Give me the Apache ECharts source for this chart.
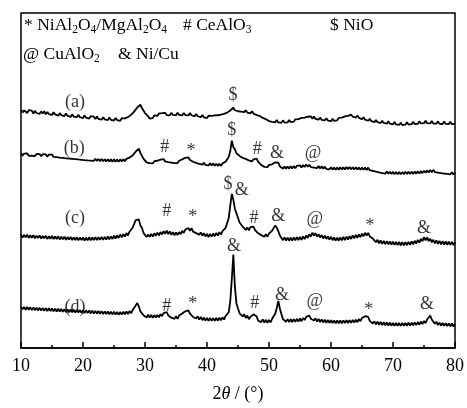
<!DOCTYPE html>
<html>
<head>
<meta charset="utf-8">
<script src="https://cdn.jsdelivr.net/npm/echarts@6/dist/echarts.min.js"></script>
<style>
html,body{margin:0;padding:0;background:#fff;}
#chart{width:467px;height:408px;}
</style>
</head>
<body>
<div id="chart"></div>
<script>
// XRD patterns (a)-(d), stacked; intensity in arbitrary units with vertical offsets.
// Sampled on a regular 2θ grid starting at 10° with a 0.25° step.
var angleStart = 10;
var angleStep = 0.25;

var traceA = [
242.5,239.8,241.9,240.1, 239.2,242.1,240.3,241.6, 238.7,241.4,239.2,240.9, 238.3,240.8,238.6,241.0,
237.9,240.2,238.1,239.7, 237.2,239.9,237.8,239.3, 236.5,239.1,237.0,238.4, 236.1,238.6,236.3,237.9,
235.2,237.8,235.6,237.1, 234.9,237.3,235.0,236.6, 234.1,236.7,234.4,235.9, 233.6,236.0,234.0,235.5,
233.0,235.6,233.2,234.8, 232.4,234.9,232.7,234.3, 232.0,234.6,232.3,233.9, 231.5,234.1,232.0,233.4,
231.3,233.9,232.0,233.8, 232.6,235.0,234.2,237.3, 237.4,240.6,241.5,244.8, 245.1,247.6,244.3,242.4,
239.2,237.5,236.0,233.6, 235.1,234.0,236.8,235.9, 236.2,238.7,236.9,239.0, 237.0,239.4,237.1,238.9,
236.8,239.3,237.2,239.1, 237.0,239.5,237.3,238.8, 236.9,239.2,237.1,239.0, 236.7,239.1,236.9,238.2,
235.8,238.3,235.9,237.3, 234.9,237.2,234.8,236.4, 234.0,236.4,234.5,236.3, 234.3,236.8,234.9,236.9,
235.1,237.6,236.0,238.4, 237.2,239.6,239.1,241.8, 242.5,244.6,242.0,243.3, 241.0,242.9,240.6,242.3,
240.0,242.1,239.7,241.2, 238.9,241.0,238.6,239.6, 237.1,238.9,236.2,236.8, 234.2,235.6,232.9,233.5,
231.0,232.9,230.2,231.6, 229.8,232.0,229.6,231.4, 229.3,231.7,229.5,231.3, 229.6,232.1,230.0,231.8,
230.4,232.8,230.9,232.9, 231.9,234.2,232.4,234.6, 232.9,235.4,233.4,235.8, 233.3,235.6,233.2,234.9,
232.5,234.6,232.1,233.7, 231.6,233.9,231.5,233.2, 230.9,233.3,231.1,233.0, 231.8,234.2,232.3,234.5,
233.4,235.7,234.0,236.3, 235.0,237.5,235.4,237.4, 234.6,236.7,234.3,235.6, 232.8,234.9,232.4,233.5,
231.3,233.4,231.0,232.1, 229.9,232.2,229.8,231.2, 229.0,231.4,229.1,230.5, 228.4,230.7,228.3,229.8,
227.7,230.1,227.6,229.2, 227.1,229.4,227.0,228.6, 227.3,229.8,227.5,229.4, 227.8,230.2,228.0,229.9,
228.2,230.7,228.6,230.4, 228.9,231.2,228.8,230.6, 228.6,231.0,228.4,230.1, 228.3,230.7,228.2,229.9,
228.0,230.5,228.1,229.6, 227.9,230.3,227.8,229.5, 228.1
];

var traceB = [
198.2,195.8,197.9,196.0, 198.0,195.6,197.6,195.9, 197.8,195.4,197.5,195.7, 197.4,195.1,197.2,195.2,
197.0,194.8,196.9,194.9, 196.9,194.5,196.3,194.2, 196.1,193.8,195.7,193.5, 195.4,193.1,195.0,192.9,
194.8,192.6,194.4,192.3, 194.1,191.9,193.8,191.6, 193.4,191.2,193.1,190.9, 192.9,190.7,192.6,190.5,
192.6,190.3,192.4,190.2, 192.5,190.1,192.2,189.9, 192.2,189.8,192.0,189.7, 192.1,189.6,191.9,189.6,
192.0,189.8,192.2,190.1, 192.6,191.0,193.8,193.6, 196.0,196.4,199.8,201.3, 203.0,198.6,196.7,192.8,
191.6,189.0,190.2,188.1, 190.0,187.9,190.1,188.3, 190.6,189.0,191.7,190.2, 192.3,189.9,191.5,189.1,
191.0,188.6,190.4,188.1, 190.0,188.2,190.6,189.4, 192.0,190.9,193.6,192.2, 194.0,191.4,192.5,189.6,
191.0,188.4,189.9,187.3, 189.1,186.6,188.7,186.3, 188.3,185.9,188.1,185.8, 187.9,185.5,187.6,185.3,
187.5,185.4,187.9,186.6, 189.6,189.8,194.5,200.2, 211.0,204.6,202.1,198.2, 198.4,195.5,196.7,193.6,
195.2,192.5,193.8,190.9, 192.3,190.0,192.1,191.2, 192.8,189.6,189.4,186.2, 187.1,184.4,186.3,184.1,
186.4,184.8,187.0,186.2, 189.0,189.4,188.7,185.0, 184.9,182.5,184.6,182.4, 184.7,182.6,184.9,182.8,
185.2,183.0,185.4,183.5, 185.9,183.7,186.3,184.2, 186.7,184.5,186.6,184.1, 186.0,183.6,185.6,183.1,
185.2,182.8,184.9,182.5, 184.6,182.2,184.2,181.9, 184.0,181.6,183.7,181.4, 183.8,181.5,183.9,181.6,
184.0,181.8,184.2,182.0, 184.3,181.9,184.0,181.7, 183.9,181.6,183.8,181.5, 183.7,181.4,183.6,181.3,
183.6,181.0,182.8,180.3, 182.1,179.6,181.2,178.8, 180.6,178.1,179.9,177.4, 179.7,177.3,179.4,177.0,
179.3,176.9,179.1,176.8, 179.2,176.8,179.0,176.9, 179.3,177.0,179.4,177.1, 179.5,177.2,179.6,177.4,
179.8,177.6,180.1,178.0, 180.5,178.3,180.8,178.6, 181.1,178.9,181.3,179.1, 181.0,178.6,180.5,178.0,
180.0,177.6,179.6,177.2, 179.2,176.8,178.9,176.6, 178.6
];

var traceC = [
115.6,112.4,115.1,112.8, 115.3,112.0,114.7,112.3, 114.9,111.7,114.4,111.9, 114.6,111.3,114.0,111.6,
114.2,111.0,113.8,111.2, 114.0,110.8,113.5,110.9, 113.7,110.5,113.2,110.6, 113.4,110.2,112.9,110.3,
113.1,109.9,112.6,110.0, 112.8,109.6,112.4,109.8, 112.6,109.4,112.3,109.6, 112.7,109.5,112.5,109.8,
112.9,109.8,112.8,110.1, 113.2,110.1,113.1,110.4, 113.6,110.6,113.6,111.0, 114.3,111.3,114.6,112.0,
115.5,112.6,115.9,113.4, 117.0,114.6,118.4,118.0, 122.4,124.1,130.2,131.6, 131.0,124.8,122.5,117.2,
117.4,112.9,115.6,113.1, 116.2,113.4,116.8,114.2, 117.4,114.6,118.0,115.6, 119.0,116.3,119.4,116.0,
118.6,115.2,117.9,114.8, 117.6,114.9,118.0,115.9, 119.3,117.1,120.6,118.6, 122.2,119.4,122.0,118.4,
120.2,116.9,118.8,115.4, 117.6,114.3,116.9,113.6, 116.0,113.0,116.0,113.4, 116.6,113.8,117.1,114.4,
117.9,115.5,119.0,117.9, 122.2,123.0,132.0,145.0, 157.0,151.0,141.8,137.0, 132.6,127.8,128.1,123.6,
124.2,120.1,122.6,119.8, 123.0,121.2,123.6,119.9, 121.0,116.8,118.6,114.9, 116.9,113.2,115.7,113.3,
116.4,115.5,119.4,120.6, 124.8,122.4,119.0,114.5, 114.2,109.8,112.6,109.4, 112.4,109.2,112.3,109.3,
112.5,109.5,112.8,109.8, 113.1,110.1,113.5,110.8, 114.6,112.0,115.9,113.5, 117.4,114.3,117.0,113.4,
115.9,112.4,114.8,111.5, 114.4,111.0,113.7,110.4, 113.2,109.7,112.5,109.3, 112.3,109.2,112.5,109.5,
113.0,109.9,113.3,110.4, 113.9,111.0,114.6,111.6, 115.1,112.2,115.7,112.9, 116.4,113.6,117.3,114.4,
117.2,113.6,115.5,111.4, 112.3,107.6,110.1,106.6, 109.6,106.0,109.1,105.7, 108.8,105.4,108.5,105.2,
108.3,104.9,108.0,104.7, 107.9,104.6,107.7,104.5, 107.8,104.7,108.1,105.1, 108.5,105.5,109.1,106.4,
110.0,107.3,111.1,108.6, 112.9,109.7,112.6,108.8, 111.3,107.5,110.1,106.6, 109.5,106.1,109.0,105.6,
108.7,105.3,108.4,105.1, 108.2,104.9,108.0,104.8, 107.7
];

var traceD = [
42.1,39.3,41.8,39.0, 41.7,38.9,41.4,38.6, 41.3,38.5,41.1,38.2, 40.9,38.1,40.7,37.9,
40.6,37.7,40.4,37.6, 40.3,37.4,40.0,37.2, 39.9,37.1,39.7,36.8, 39.5,36.7,39.3,36.4,
39.2,36.3,39.0,36.1, 38.8,36.0,38.6,35.8, 38.5,35.6,38.3,35.5, 38.2,35.3,38.0,35.1,
37.8,35.0,37.7,34.8, 37.5,34.6,37.3,34.5, 37.2,34.3,37.0,34.2, 36.9,34.0,36.7,33.9,
36.6,34.0,36.9,34.3, 37.2,34.6,37.6,35.3, 38.4,38.0,43.2,45.8, 42.4,37.4,37.1,33.4,
34.9,31.1,33.8,30.9, 33.6,30.8,33.5,30.9, 33.7,31.2,34.5,32.4, 35.6,34.2,36.5,33.1,
34.2,30.9,32.9,29.6, 32.3,29.6,33.0,31.2, 35.1,34.0,37.4,36.4, 38.2,34.9,35.6,31.6,
33.5,30.0,32.3,28.9, 31.6,28.3,31.0,27.9, 30.6,27.7,30.5,27.6, 30.4,27.6,30.5,27.8,
30.8,28.1,31.2,28.9, 32.6,31.0,36.2,47.5, 70.0,95.0,62.0,45.4, 40.2,35.3,36.4,32.2,
34.3,30.6,33.0,29.4, 31.7,30.1,34.2,35.1, 32.4,27.8,29.6,26.4, 29.1,25.9,28.7,25.7,
28.6,26.2,29.7,30.4, 34.9,40.6,48.0,40.2, 34.6,29.4,30.1,26.7, 29.4,26.4,29.3,26.5,
29.4,26.6,29.6,26.9, 30.0,27.3,30.6,28.4, 31.8,30.0,33.0,29.8, 31.4,27.9,30.2,26.9,
29.5,26.3,29.1,26.0, 28.8,25.7,28.5,25.5, 28.3,25.3,28.1,25.2, 28.0,25.1,28.0,25.2,
28.1,25.3,28.3,25.5, 28.4,25.6,28.6,25.9, 28.9,26.3,29.5,27.3, 30.6,29.0,32.4,31.0,
31.6,27.6,28.4,24.9, 27.2,24.0,26.8,23.7, 26.5,23.4,26.2,23.1, 26.0,22.9,25.8,22.7,
25.6,22.6,25.5,22.5, 25.5,22.5,25.5,22.6, 25.6,22.7,25.7,22.8, 25.8,23.0,26.1,23.3,
26.4,23.7,26.9,24.3, 27.5,25.3,29.0,29.4, 33.0,29.0,28.4,24.6, 26.8,23.4,25.9,22.8,
25.6,22.6,25.3,22.3, 25.1,22.1,24.9,21.9, 24.6
];

// Sample labels: [text, 2θ, intensity]
var sampleTags = [
  ['(a)', 18.7, 250],
  ['(b)', 18.6, 203],
  ['(c)', 18.7, 132],
  ['(d)', 18.7, 41]
];

// Phase markers over the reflections: [symbol, 2θ, intensity]
var phaseTags = [
  ['$', 44.2, 257],
  ['#', 33.2, 204], ['*', 37.4, 200], ['$', 44.0, 222], ['#', 48.1, 202], ['&', 51.3, 198], ['@', 57.1, 198],
  ['#', 33.5, 139], ['*', 37.7, 133], ['$', 43.4, 167], ['&', 45.6, 161], ['#', 47.6, 132], ['&', 51.5, 134], ['@', 57.4, 131], ['*', 66.3, 124], ['&', 75.0, 122],
  ['#', 33.5, 42], ['*', 37.7, 45], ['&', 44.35, 104], ['#', 47.7, 46], ['&', 52.1, 54], ['@', 57.4, 48], ['*', 66.1, 38], ['&', 75.5, 45]
];

var xTicks = [10, 20, 30, 40, 50, 60, 70, 80];

function toPairs(values) {
  return values.map(function (v, i) { return [angleStart + i * angleStep, v]; });
}

var SERIF = "'Liberation Serif', 'Times New Roman', serif";

var chart = echarts.init(document.getElementById('chart'), null, { renderer: 'canvas' });

function traceSeries(name, values) {
  return {
    name: name,
    type: 'line',
    data: toPairs(values),
    showSymbol: false,
    symbol: 'none',
    lineStyle: { color: '#000', width: 1.8 },
    animation: false,
    z: 3
  };
}

function tagSeries(tags, fontSize) {
  return {
    type: 'scatter',
    symbolSize: 0,
    data: tags.map(function (t) { return { value: [t[1], t[2]], tag: t[0] }; }),
    label: {
      show: true,
      position: 'inside',
      formatter: function (p) { return p.data.tag; },
      fontFamily: SERIF,
      fontSize: fontSize,
      color: '#000'
    },
    silent: true,
    animation: false,
    z: 4
  };
}

var sub = { fontFamily: SERIF, fontSize: 11.5, lineHeight: 10, verticalAlign: 'bottom', color: '#000' };
var main = { fontFamily: SERIF, fontSize: 17.5, lineHeight: 22, color: '#000' };

chart.setOption({
  backgroundColor: '#fff',
  animation: false,
  grid: { left: 21, right: 11, top: 13, bottom: 54, show: true, borderColor: '#000', borderWidth: 1.5, backgroundColor: 'transparent' },
  xAxis: {
    type: 'value',
    min: xTicks[0],
    max: xTicks[xTicks.length - 1],
    interval: 10,
    axisLine: { show: true, lineStyle: { color: '#000', width: 1.5 } },
    axisTick: { show: true, inside: true, length: 6, lineStyle: { color: '#000', width: 1.5 } },
    minorTick: { show: true, splitNumber: 2, length: 3, lineStyle: { color: '#000', width: 1.5 } },
    splitLine: { show: false },
    axisLabel: { color: '#000', fontFamily: SERIF, fontSize: 18, margin: 9 },
    name: '2{i|θ} / (°)',
    nameLocation: 'middle',
    nameGap: 37,
    nameTextStyle: {
      color: '#000', fontFamily: SERIF, fontSize: 18,
      rich: { i: { fontFamily: SERIF, fontSize: 18, fontStyle: 'italic', color: '#000' } }
    }
  },
  yAxis: {
    type: 'value',
    min: 0,
    max: 341,
    axisLine: { show: false },
    axisTick: { show: false },
    axisLabel: { show: false },
    splitLine: { show: false }
  },
  graphic: [
    {
      type: 'text', left: 24, top: 16, silent: true,
      style: {
        text: '{m|* NiAl}{s|2}{m|O}{s|4}{m|/MgAl}{s|2}{m|O}{s|4}',
        rich: { m: main, s: sub }
      }
    },
    {
      type: 'text', left: 183, top: 16, silent: true,
      style: { text: '{m|# CeAlO}{s|3}', rich: { m: main, s: sub } }
    },
    {
      type: 'text', left: 330, top: 16, silent: true,
      style: { text: '{m|$ NiO}', rich: { m: main, s: sub } }
    },
    {
      type: 'text', left: 23, top: 45, silent: true,
      style: { text: '{m|@ CuAlO}{s|2}', rich: { m: main, s: sub } }
    },
    {
      type: 'text', left: 118, top: 45, silent: true,
      style: { text: '{m|& Ni/Cu}', rich: { m: main, s: sub } }
    }
  ],
  series: [
    traceSeries('a', traceA),
    traceSeries('b', traceB),
    traceSeries('c', traceC),
    traceSeries('d', traceD),
    tagSeries(sampleTags, 18),
    tagSeries(phaseTags, 18)
  ]
});
</script>
</body>
</html>
